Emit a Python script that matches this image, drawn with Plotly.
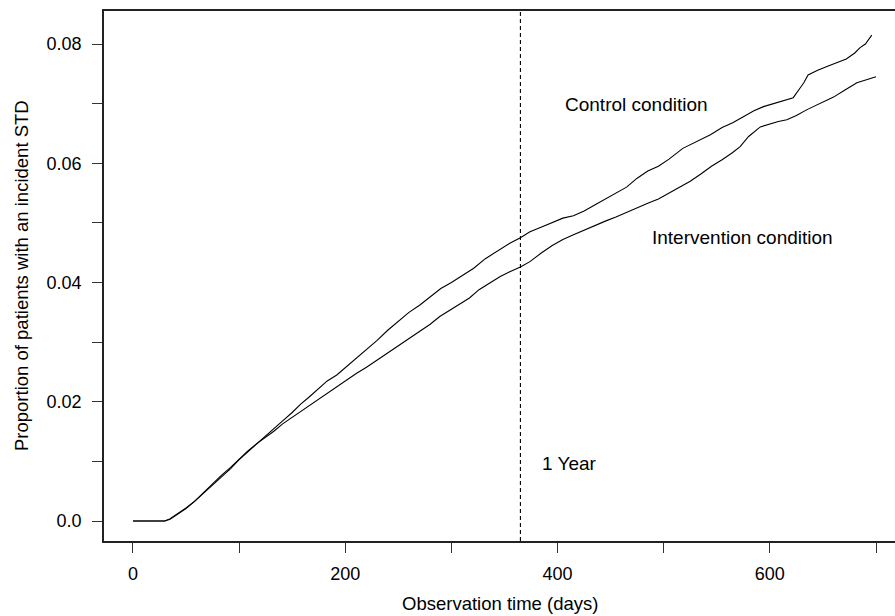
import plotly.graph_objects as go

# Control condition (upper curve at end)
ctrl_days = [0, 30, 35, 42, 50, 58, 66, 75, 83, 92, 100, 108, 116, 125, 133, 141, 150, 158, 166,
             175, 183, 192, 200, 210, 220, 230, 240, 251, 260, 270, 280, 290, 300, 310, 321, 332,
             343, 355, 365, 374, 385, 395, 405, 415, 425, 435, 445, 455, 465, 475, 485, 495, 505,
             518, 530, 544, 555, 565, 575, 585, 594, 604, 614, 622, 628, 632, 636, 645, 655, 664,
             672, 680, 685, 690, 696]
ctrl_vals = [0, 0, 0.0004, 0.0012, 0.0022, 0.0033, 0.0046, 0.0060, 0.0073, 0.0088, 0.0103, 0.0116,
             0.0128, 0.0142, 0.0155, 0.0168, 0.0182, 0.0196, 0.0208, 0.0222, 0.0235, 0.0245, 0.0257,
             0.0272, 0.0288, 0.0303, 0.0320, 0.0337, 0.0350, 0.0362, 0.0376, 0.0390, 0.0400, 0.0412,
             0.0424, 0.0440, 0.0452, 0.0466, 0.0475, 0.0485, 0.0493, 0.0500, 0.0508, 0.0512, 0.0520,
             0.0530, 0.0540, 0.0550, 0.0560, 0.0575, 0.0587, 0.0595, 0.0607, 0.0625, 0.0636, 0.0648,
             0.0660, 0.0668, 0.0678, 0.0688, 0.0695, 0.0700, 0.0705, 0.0710, 0.0725, 0.0735, 0.0748,
             0.0756, 0.0763, 0.0770, 0.0775, 0.0785, 0.0794, 0.0800, 0.0815]

# Intervention condition (lower curve at end)
int_days = [0, 30, 35, 42, 50, 58, 66, 75, 83, 92, 100, 108, 116, 125, 133, 141, 150, 158, 166,
            175, 183, 192, 200, 210, 220, 230, 240, 250, 260, 270, 280, 289, 300, 310, 317, 326,
            336, 346, 355, 365, 374, 385, 395, 405, 415, 425, 435, 445, 455, 465, 475, 485, 495,
            505, 515, 525, 535, 545, 555, 565, 572, 580, 591, 600, 608, 616, 625, 635, 645, 652,
            660, 670, 682, 691, 700]
int_vals = [0, 0, 0.0003, 0.0011, 0.0021, 0.0033, 0.0047, 0.0062, 0.0076, 0.0090, 0.0104, 0.0117,
            0.0129, 0.0140, 0.0151, 0.0163, 0.0174, 0.0184, 0.0194, 0.0205, 0.0215, 0.0225, 0.0235,
            0.0247, 0.0258, 0.0270, 0.0282, 0.0293, 0.0305, 0.0318, 0.0330, 0.0343, 0.0355, 0.0365,
            0.0374, 0.0388, 0.0399, 0.0410, 0.0418, 0.0426, 0.0435, 0.0450, 0.0462, 0.0472, 0.0480,
            0.0488, 0.0495, 0.0503, 0.0510, 0.0518, 0.0525, 0.0533, 0.0540, 0.0550, 0.0560, 0.0570,
            0.0582, 0.0595, 0.0606, 0.0618, 0.0628, 0.0645, 0.0661, 0.0666, 0.0670, 0.0673, 0.0680,
            0.0690, 0.0698, 0.0704, 0.0711, 0.0722, 0.0735, 0.0740, 0.0745]

x_ticks = [0, 100, 200, 300, 400, 500, 600, 700]
x_ticktext = ["0", "", "200", "", "400", "", "600", ""]
y_ticks = [0, 0.01, 0.02, 0.03, 0.04, 0.05, 0.06, 0.07, 0.08]
y_ticktext = ["0.0", "", "0.02", "", "0.04", "", "0.06", "", "0.08"]

one_year = 365
labels = [
    ("Control condition", 474, 0.0698, "center"),
    ("Intervention condition", 574, 0.0475, "center"),
    ("1 Year", 383, 0.0097, "left"),
]

FONT = "Liberation Sans, Arial, Helvetica, sans-serif"

fig = go.Figure()
fig.add_trace(go.Scatter(x=ctrl_days, y=ctrl_vals, mode="lines",
                         line=dict(color="black", width=1.1), showlegend=False))
fig.add_trace(go.Scatter(x=int_days, y=int_vals, mode="lines",
                         line=dict(color="black", width=1.1), showlegend=False))

fig.add_shape(type="line", x0=one_year, x1=one_year, y0=0, y1=1, xref="x", yref="paper",
              line=dict(color="black", width=1.1, dash="4px,3px"))

for txt, xv, yv, anc in labels:
    fig.add_annotation(x=xv, y=yv, text=txt, showarrow=False, xanchor=anc, yanchor="middle",
                       font=dict(family=FONT, size=19, color="black"))

fig.add_annotation(x=0, y=0.5, xref="paper", yref="paper", text="Proportion of patients with an incident STD",
                   textangle=-90, showarrow=False, xanchor="center", yanchor="middle", xshift=-83,
                   font=dict(family=FONT, size=18.5, color="black"))
fig.add_annotation(x=0.5, y=0, xref="paper", yref="paper", text="Observation time (days)",
                   showarrow=False, xanchor="center", yanchor="middle", yshift=-62,
                   font=dict(family=FONT, size=18.5, color="black"))

fig.update_layout(
    width=895, height=616,
    margin=dict(l=104, r=0, t=11, b=75),
    paper_bgcolor="white", plot_bgcolor="white",
    font=dict(family=FONT, size=18, color="black"),
)
fig.update_xaxes(range=[-27.3, 717.9], tickvals=x_ticks, ticktext=x_ticktext,
                 showgrid=False, zeroline=False, showline=True, linecolor="#222", linewidth=1.5,
                 mirror=True, ticks="outside", ticklen=10, tickcolor="#333", tickwidth=1,
                 ticklabelstandoff=6, tickfont=dict(size=18))
fig.update_yaxes(range=[-0.00335, 0.08554], tickvals=y_ticks, ticktext=y_ticktext,
                 showgrid=False, zeroline=False, showline=True, linecolor="#222", linewidth=1.5,
                 ticks="outside", ticklen=10, tickcolor="#333", tickwidth=1,
                 ticklabelstandoff=7, tickfont=dict(size=18))

fig.write_html("out.html", config={"displayModeBar": False},
               post_script="document.body.style.margin='0';")
